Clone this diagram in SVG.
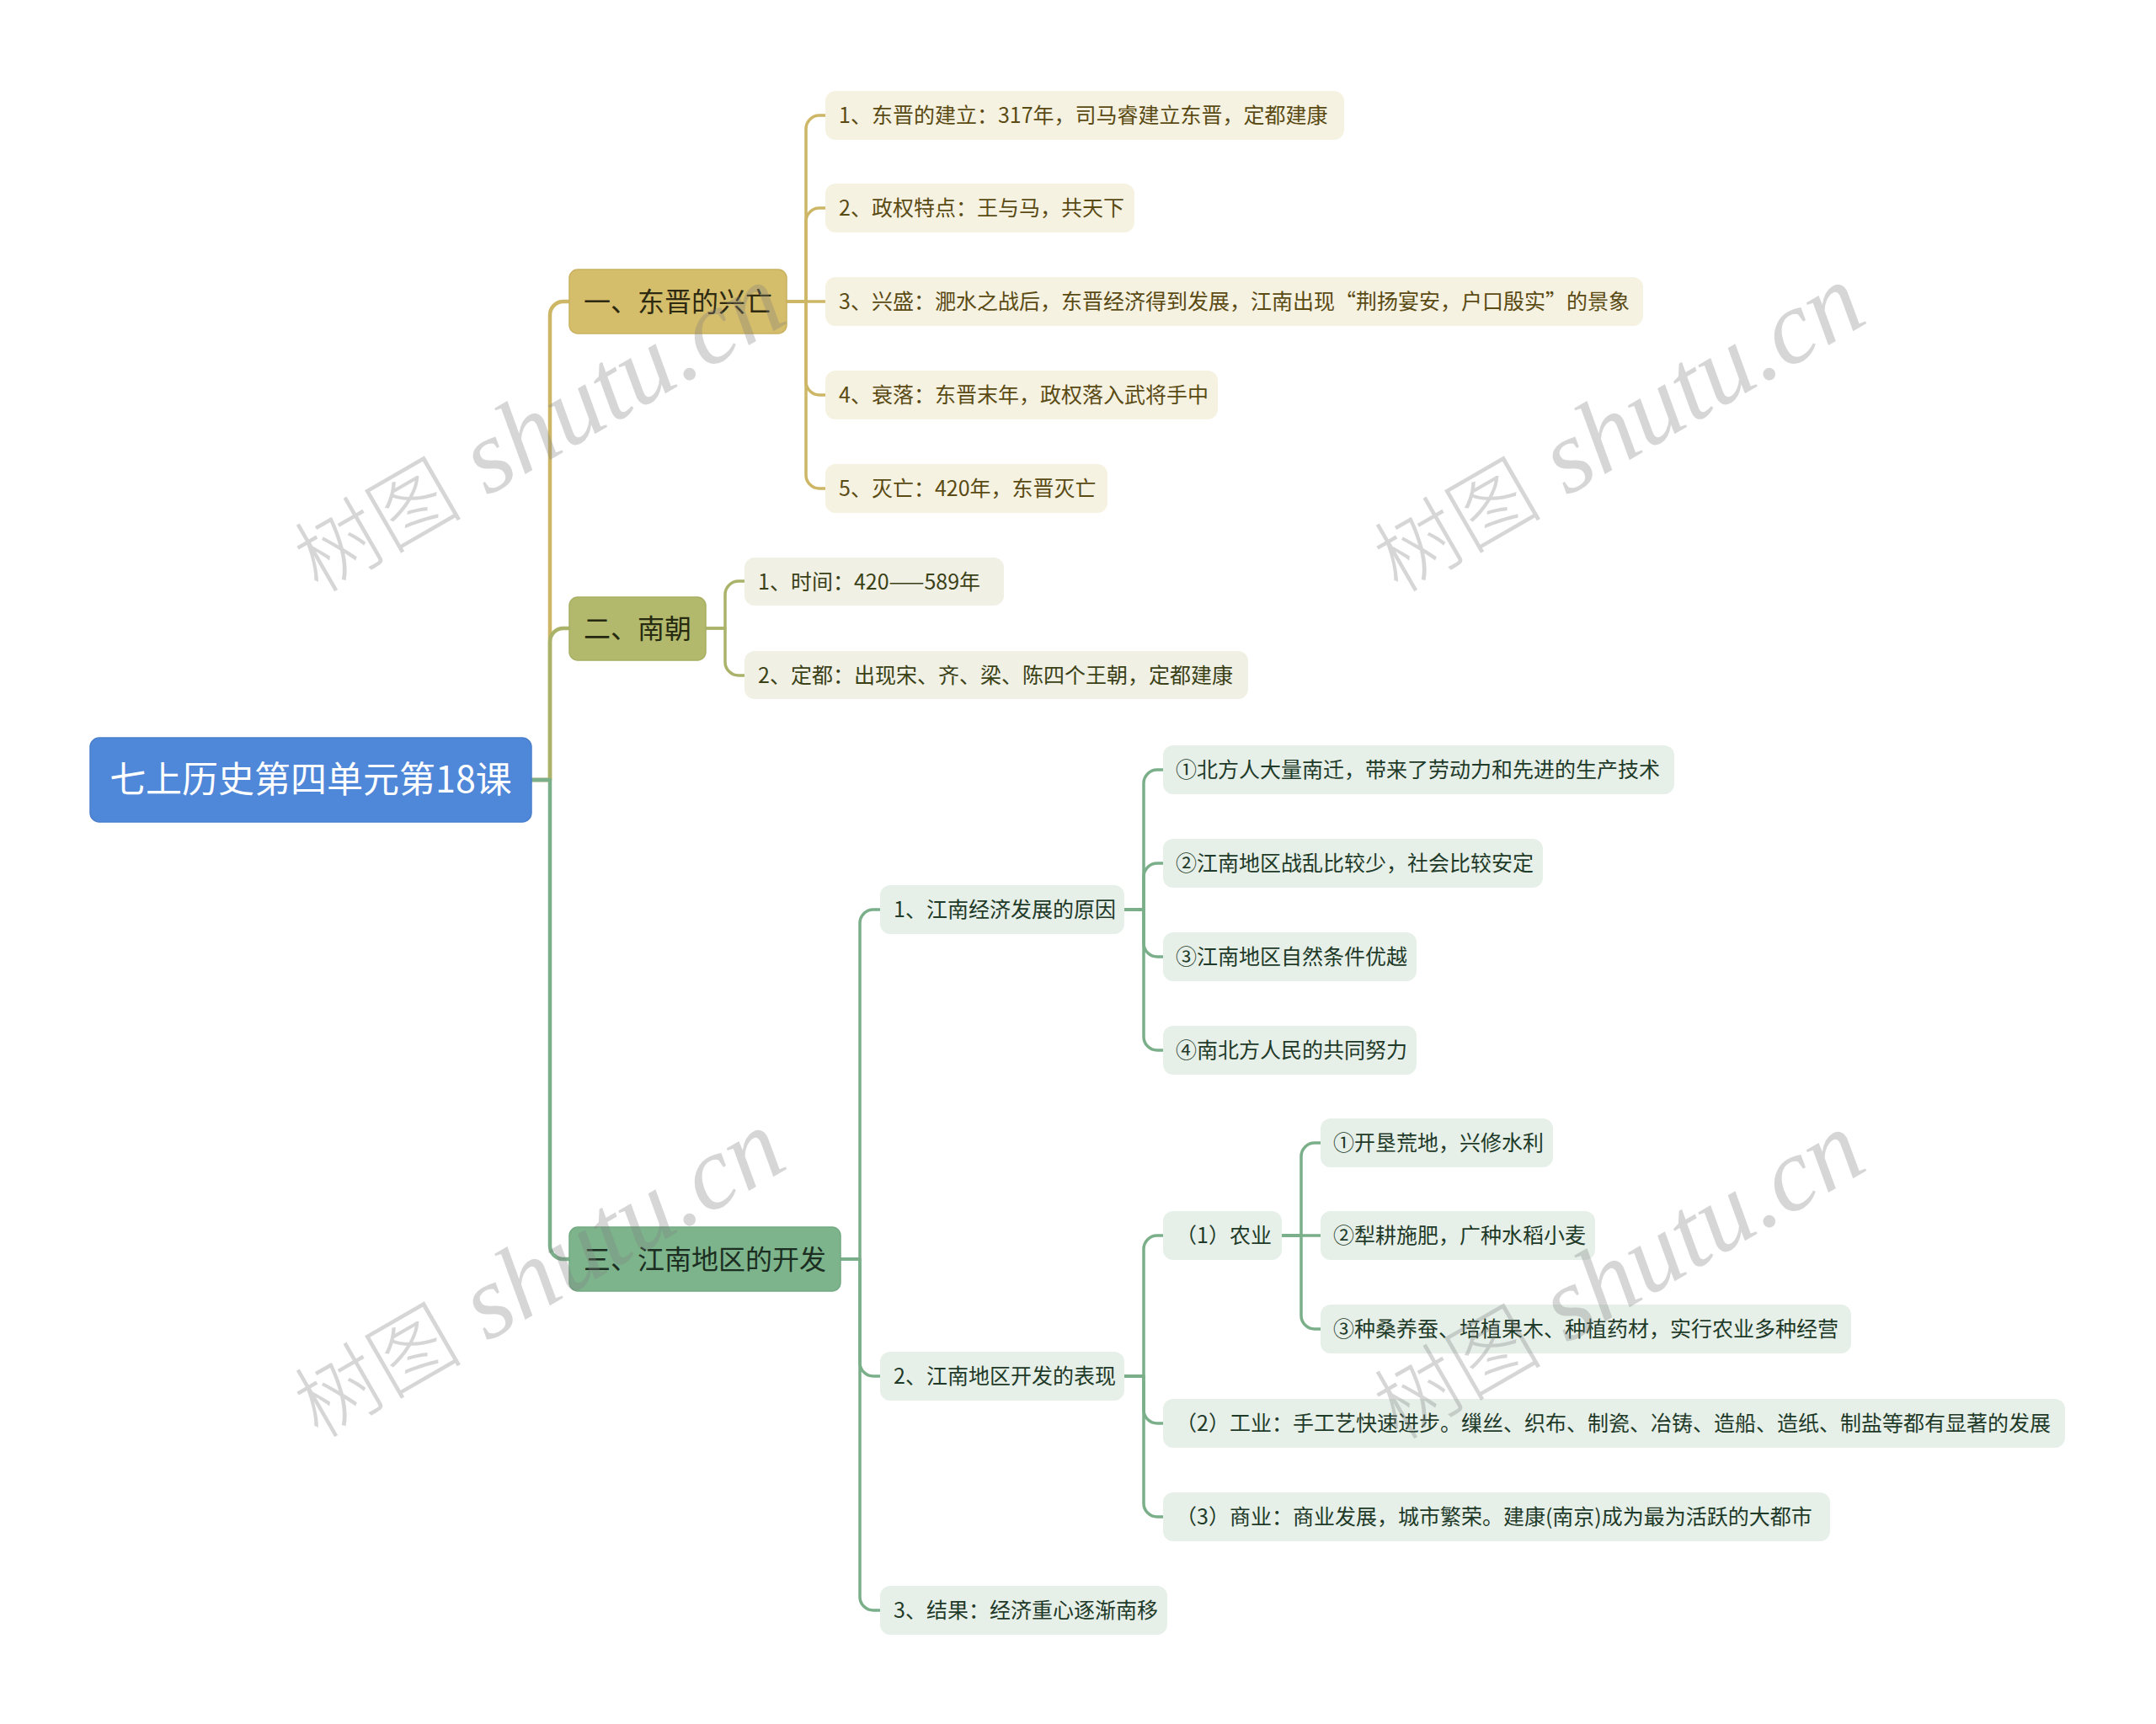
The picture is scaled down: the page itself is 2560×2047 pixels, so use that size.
<svg xmlns="http://www.w3.org/2000/svg" width="2560" height="2047" viewBox="0 0 2560 2047">
<style>
text{font-family:"Noto Sans CJK SC","Liberation Sans",sans-serif;}
.root{fill:#4f87d9;stroke:#4a7fcc;stroke-width:1.5}
.rt{fill:#ffffff;font-size:43px;text-anchor:middle}
.l1t{font-size:32px}
.t{font-size:25px}
.gB{fill:#d4bd6b;stroke:#c9b160;stroke-width:1.5}
.oB{fill:#b2b96d;stroke:#a7ae62;stroke-width:1.5}
.nB{fill:#7db48c;stroke:#73a982;stroke-width:1.5}
.gC{fill:#f6f2e1}
.oC{fill:#f0f0e5}
.nC{fill:#e6f0e9}
.gT{fill:#5a4a14}
.oT{fill:#3b4116}
.nT{fill:#1f3a28}
.g1T{fill:#2e2a12}
.o1T{fill:#262a10}
.n1T{fill:#1b2e21}
.c{fill:none;stroke-linecap:round;stroke-linejoin:round}
.cg{stroke:#cdb766}
.co{stroke:#abb36a}
.cn{stroke:#7aaf89}
.w1{stroke-width:4.5}
.w2{stroke-width:3.5}
.wm{fill:#7f7f7f;fill-opacity:0.32;font-family:"Liberation Serif","Noto Sans CJK SC",serif;font-size:124px}
.wc{font-family:"Noto Sans CJK SC",serif;font-size:100px;font-weight:300}
.wl{font-style:italic}
</style>

<g id="connectors">
  <path class="c cg w1" d="M631 926 H653 V374 A16 16 0 0 1 669 358 H676"/>
  <path class="c co w1" d="M631 926 H653 V762 A16 16 0 0 1 669 746 H676"/>
  <path class="c cn w1" d="M631 926 H653 V1479 A16 16 0 0 0 669 1495 H676"/>

  <path class="c cg w2" d="M934 358 H957 V153 A16 16 0 0 1 973 137 H980"/>
  <path class="c cg w2" d="M934 358 H957 V263 A16 16 0 0 1 973 247 H980"/>
  <path class="c cg w2" d="M934 358 H980"/>
  <path class="c cg w2" d="M934 358 H957 V453 A16 16 0 0 0 973 469 H980"/>
  <path class="c cg w2" d="M934 358 H957 V564 A16 16 0 0 0 973 580 H980"/>

  <path class="c co w2" d="M838 746 H861 V706 A16 16 0 0 1 877 690 H884"/>
  <path class="c co w2" d="M838 746 H861 V786 A16 16 0 0 0 877 802 H884"/>

  <path class="c cn w2" d="M998 1495 H1021 V1096 A16 16 0 0 1 1037 1080 H1045"/>
  <path class="c cn w2" d="M998 1495 H1021 V1618 A16 16 0 0 0 1037 1634 H1045"/>
  <path class="c cn w2" d="M998 1495 H1021 V1896 A16 16 0 0 0 1037 1912 H1045"/>

  <path class="c cn w2" d="M1335 1080 H1358 V930 A16 16 0 0 1 1374 914 H1381"/>
  <path class="c cn w2" d="M1335 1080 H1358 V1041 A16 16 0 0 1 1374 1025 H1381"/>
  <path class="c cn w2" d="M1335 1080 H1358 V1120 A16 16 0 0 0 1374 1136 H1381"/>
  <path class="c cn w2" d="M1335 1080 H1358 V1231 A16 16 0 0 0 1374 1247 H1381"/>

  <path class="c cn w2" d="M1335 1634 H1358 V1483 A16 16 0 0 1 1374 1467 H1381"/>
  <path class="c cn w2" d="M1335 1634 H1358 V1674 A16 16 0 0 0 1374 1690 H1381"/>
  <path class="c cn w2" d="M1335 1634 H1358 V1785 A16 16 0 0 0 1374 1801 H1381"/>

  <path class="c cn w2" d="M1522 1467 H1545 V1373 A16 16 0 0 1 1561 1357 H1568"/>
  <path class="c cn w2" d="M1522 1467 H1568"/>
  <path class="c cn w2" d="M1522 1467 H1545 V1562 A16 16 0 0 0 1561 1578 H1568"/>
</g>

<g id="root">
  <rect class="root" x="107" y="876" width="524" height="100" rx="11"/>
  <text class="rt" x="369" y="941">七上历史第四单元第18课</text>
</g>

<g id="n1">
  <rect class="gB" x="676" y="320" width="258" height="76" rx="10"/>
  <text class="l1t g1T" x="693" y="369.5">一、东晋的兴亡</text>
</g>
<g id="n1-1">
  <rect class="gC" x="980" y="108" width="616" height="58" rx="12"/>
  <text class="t gT" x="996" y="146">1、东晋的建立：317年，司马睿建立东晋，定都建康</text>
</g>
<g id="n1-2">
  <rect class="gC" x="980" y="218" width="367" height="58" rx="12"/>
  <text class="t gT" x="996" y="256">2、政权特点：王与马，共天下</text>
</g>
<g id="n1-3">
  <rect class="gC" x="980" y="329" width="971" height="58" rx="12"/>
  <text class="t gT" x="996" y="367">3、兴盛：淝水之战后，东晋经济得到发展，江南出现“荆扬宴安，户口殷实”的景象</text>
</g>
<g id="n1-4">
  <rect class="gC" x="980" y="440" width="466" height="58" rx="12"/>
  <text class="t gT" x="996" y="478">4、衰落：东晋末年，政权落入武将手中</text>
</g>
<g id="n1-5">
  <rect class="gC" x="980" y="551" width="335" height="58" rx="12"/>
  <text class="t gT" x="996" y="589">5、灭亡：420年，东晋灭亡</text>
</g>

<g id="n2">
  <rect class="oB" x="676" y="709" width="162" height="75" rx="10"/>
  <text class="l1t o1T" x="693" y="757.5">二、南朝</text>
</g>
<g id="n2-1">
  <rect class="oC" x="884" y="662" width="308" height="57" rx="12"/>
  <text class="t oT" x="900" y="699.5">1、时间：420——589年</text>
</g>
<g id="n2-2">
  <rect class="oC" x="884" y="773" width="598" height="57" rx="12"/>
  <text class="t oT" x="900" y="810.5">2、定都：出现宋、齐、梁、陈四个王朝，定都建康</text>
</g>

<g id="n3">
  <rect class="nB" x="676" y="1457" width="322" height="76" rx="10"/>
  <text class="l1t n1T" x="693" y="1506.5">三、江南地区的开发</text>
</g>
<g id="n3-1">
  <rect class="nC" x="1045" y="1051" width="290" height="58" rx="12"/>
  <text class="t nT" x="1061" y="1089">1、江南经济发展的原因</text>
</g>
<g id="n3-1-1">
  <rect class="nC" x="1381" y="885" width="607" height="58" rx="12"/>
  <text class="t nT" x="1396" y="923">①北方人大量南迁，带来了劳动力和先进的生产技术</text>
</g>
<g id="n3-1-2">
  <rect class="nC" x="1381" y="996" width="451" height="58" rx="12"/>
  <text class="t nT" x="1396" y="1034">②江南地区战乱比较少，社会比较安定</text>
</g>
<g id="n3-1-3">
  <rect class="nC" x="1381" y="1107" width="301" height="58" rx="12"/>
  <text class="t nT" x="1396" y="1145">③江南地区自然条件优越</text>
</g>
<g id="n3-1-4">
  <rect class="nC" x="1381" y="1218" width="301" height="58" rx="12"/>
  <text class="t nT" x="1396" y="1256">④南北方人民的共同努力</text>
</g>
<g id="n3-2">
  <rect class="nC" x="1045" y="1605" width="290" height="58" rx="12"/>
  <text class="t nT" x="1061" y="1643">2、江南地区开发的表现</text>
</g>
<g id="n3-2-1">
  <rect class="nC" x="1381" y="1438" width="141" height="58" rx="12"/>
  <text class="t nT" x="1396" y="1476">（1）农业</text>
</g>
<g id="n3-2-1-1">
  <rect class="nC" x="1568" y="1328" width="276" height="58" rx="12"/>
  <text class="t nT" x="1583" y="1366">①开垦荒地，兴修水利</text>
</g>
<g id="n3-2-1-2">
  <rect class="nC" x="1568" y="1438" width="326" height="58" rx="12"/>
  <text class="t nT" x="1583" y="1476">②犁耕施肥，广种水稻小麦</text>
</g>
<g id="n3-2-1-3">
  <rect class="nC" x="1568" y="1549" width="630" height="58" rx="12"/>
  <text class="t nT" x="1583" y="1587">③种桑养蚕、培植果木、种植药材，实行农业多种经营</text>
</g>
<g id="n3-2-2">
  <rect class="nC" x="1381" y="1661" width="1071" height="58" rx="12"/>
  <text class="t nT" x="1396" y="1699">（2）工业：手工艺快速进步。缫丝、织布、制瓷、冶铸、造船、造纸、制盐等都有显著的发展</text>
</g>
<g id="n3-2-3">
  <rect class="nC" x="1381" y="1772" width="792" height="58" rx="12"/>
  <text class="t nT" x="1396" y="1810">（3）商业：商业发展，城市繁荣。建康(南京)成为最为活跃的大都市</text>
</g>
<g id="n3-3">
  <rect class="nC" x="1045" y="1883" width="341" height="58" rx="12"/>
  <text class="t nT" x="1061" y="1921">3、结果：经济重心逐渐南移</text>
</g>

<g id="watermarks">
  <text class="wm" transform="translate(378,705) rotate(-30)"><tspan class="wc">树图</tspan><tspan class="wl"> shutu.cn</tspan></text>
  <text class="wm" transform="translate(1660,705) rotate(-30)"><tspan class="wc">树图</tspan><tspan class="wl"> shutu.cn</tspan></text>
  <text class="wm" transform="translate(378,1709) rotate(-30)"><tspan class="wc">树图</tspan><tspan class="wl"> shutu.cn</tspan></text>
  <text class="wm" transform="translate(1660,1711) rotate(-30)"><tspan class="wc">树图</tspan><tspan class="wl"> shutu.cn</tspan></text>
</g>
</svg>
